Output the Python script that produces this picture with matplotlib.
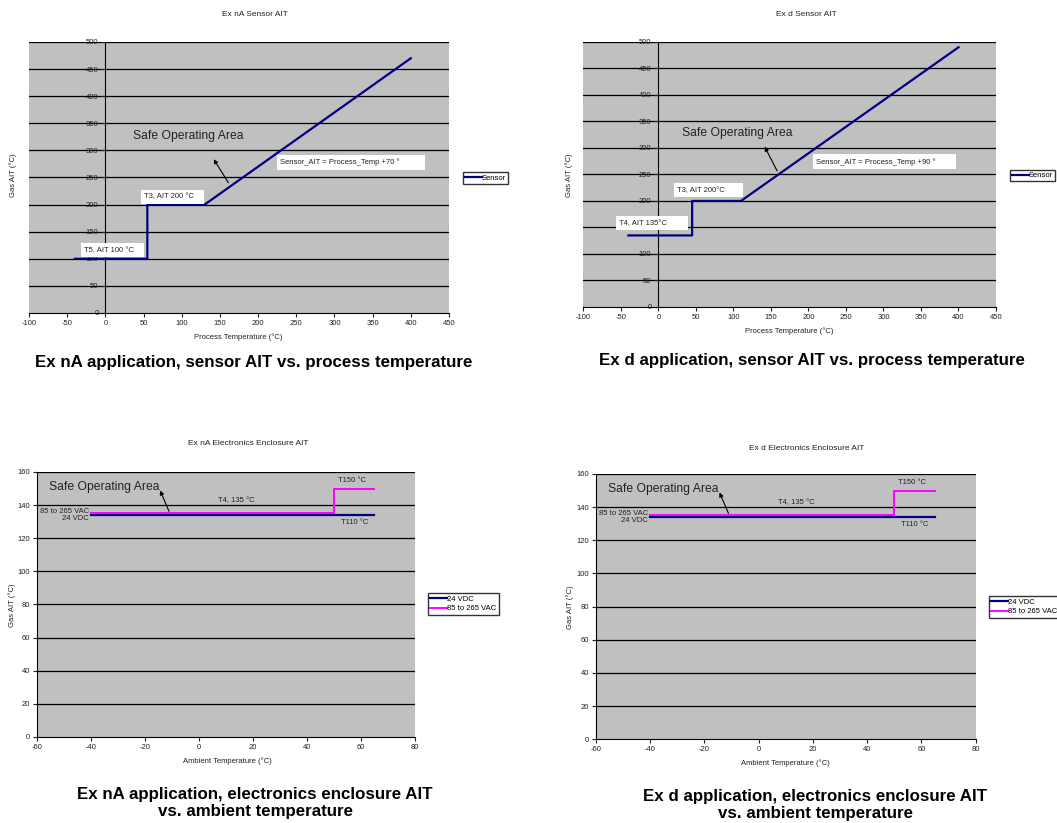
import matplotlib
matplotlib.use("Agg")
import matplotlib.pyplot as plt

plt.rcParams['font.family'] = ['Liberation Sans', 'DejaVu Sans']
plt.rcParams['axes.unicode_minus'] = False

# Ex nA sensor
na_x = [-40, 55, 55, 130, 400]
na_y = [100, 100, 200, 200, 470]
# Ex d sensor
d_x = [-40, 45, 45, 110, 400]
d_y = [135, 135, 200, 200, 490]
# enclosures (same for both)
vdc_x = [-40, 65]
vdc_y = [134, 134]
vac_x = [-40, 50, 50, 65]
vac_y = [135, 135, 150, 150]

sensor_xticks = list(range(-100, 451, 50))
sensor_yticks = list(range(0, 501, 50))
encl_xticks = list(range(-60, 81, 20))
encl_yticks = list(range(0, 161, 20))

BG = '#c0c0c0'
NAVY = '#000080'
MAG = '#ff00ff'
TXT = '#222222'

fig = plt.figure(figsize=(10.57, 8.23), dpi=100)


def setup(ax, xt, yt, cross0):
    ax.set_facecolor(BG)
    ax.set_xlim(xt[0], xt[-1])
    ax.set_ylim(yt[0], yt[-1])
    ax.set_xticks(xt)
    ax.set_yticks(yt)
    ax.tick_params(labelsize=5.5, colors=TXT, length=3, width=0.8, pad=2)
    for y in yt[1:]:
        ax.axhline(y, color='black', lw=0.9, zorder=1)
    for s in ['top', 'right']:
        ax.spines[s].set_visible(False)
    ax.spines['bottom'].set_color('black')
    ax.spines['left'].set_color('black')
    if cross0:
        ax.spines['left'].set_position(('data', 0))


def lbox(ax, x, y, s):
    ax.text(x, y, s, fontsize=5.5, color=TXT, va='center', ha='left',
            bbox=dict(facecolor='white', edgecolor='none', pad=2.5), zorder=4)


# ---- top left ----
ax1 = fig.add_axes([0.0274, 0.6197, 0.3974, 0.3293])
setup(ax1, sensor_xticks, sensor_yticks, True)
l1, = ax1.plot(na_x, na_y, color=NAVY, lw=1.6, zorder=3)
ax1.text(36, 327, 'Safe Operating Area', fontsize=8.7, color=TXT, va='center')
ax1.annotate('', xy=(140, 288), xytext=(163, 236),
             arrowprops=dict(arrowstyle='-|>', color='black', lw=0.8, mutation_scale=6))
lbox(ax1, 229, 278, 'Sensor_AIT = Process_Temp +70 °          ')
lbox(ax1, 51, 214, 'T3, AIT 200 °C   ')
lbox(ax1, -28, 116, 'T5, AIT 100 °C   ')
fig.legend([l1], ['Sensor'], loc='upper left', bbox_to_anchor=(0.438, 0.791),
           fontsize=5.5, frameon=True, fancybox=False, edgecolor='black',
           handlelength=2.2, handletextpad=0, borderpad=0.3, borderaxespad=0)

# ---- top right ----
ax2 = fig.add_axes([0.5519, 0.6270, 0.3904, 0.3220])
setup(ax2, sensor_xticks, sensor_yticks, True)
l2, = ax2.plot(d_x, d_y, color=NAVY, lw=1.6, zorder=3)
ax2.text(31, 328, 'Safe Operating Area', fontsize=8.7, color=TXT, va='center')
ax2.annotate('', xy=(140, 307), xytext=(160, 252),
             arrowprops=dict(arrowstyle='-|>', color='black', lw=0.8, mutation_scale=6))
lbox(ax2, 210, 274, 'Sensor_AIT = Process_Temp +90 °        ')
lbox(ax2, 25, 220, 'T3, AIT 200°C       ')
lbox(ax2, -52, 158, 'T4, AIT 135°C        ')
fig.legend([l2], ['Sensor'], loc='upper left', bbox_to_anchor=(0.9555, 0.794),
           fontsize=5.5, frameon=True, fancybox=False, edgecolor='black',
           handlelength=2.2, handletextpad=0, borderpad=0.3, borderaxespad=0)


def encl(ax):
    setup(ax, encl_xticks, encl_yticks, False)
    a, = ax.plot(vdc_x, vdc_y, color=NAVY, lw=1.6, zorder=3)
    b, = ax.plot(vac_x, vac_y, color=MAG, lw=1.4, zorder=3)
    ax.text(-55.6, 151, 'Safe Operating Area', fontsize=8.7, color=TXT, va='center')
    ax.annotate('', xy=(-14.8, 150.4), xytext=(-10.7, 134.7),
                arrowprops=dict(arrowstyle='-|>', color='black', lw=0.8, mutation_scale=6))
    ax.text(14, 142.5, 'T4, 135 °C', fontsize=5.5, color=TXT, ha='center', va='center')
    ax.text(-40.7, 136.2, '85 to 265 VAC', fontsize=5.5, color=TXT, ha='right', va='center')
    ax.text(-40.7, 131.8, '24 VDC', fontsize=5.5, color=TXT, ha='right', va='center')
    ax.text(51.5, 154.6, 'T150 °C', fontsize=5.5, color=TXT, ha='left', va='center')
    ax.text(52.6, 129.8, 'T110 °C', fontsize=5.5, color=TXT, ha='left', va='center')
    return a, b


ax3 = fig.add_axes([0.0350, 0.1045, 0.3576, 0.3220])
a3, b3 = encl(ax3)
fig.legend([a3, b3], ['24 VDC', '85 to 265 VAC'], loc='upper left',
           bbox_to_anchor=(0.405, 0.2795), fontsize=5.5, frameon=True, fancybox=False,
           edgecolor='black', handlelength=2.2, handletextpad=0, borderpad=0.3,
           borderaxespad=0, labelspacing=0.3)

ax4 = fig.add_axes([0.5636, 0.1017, 0.3595, 0.3224])
a4, b4 = encl(ax4)
fig.legend([a4, b4], ['24 VDC', '85 to 265 VAC'], loc='upper left',
           bbox_to_anchor=(0.9357, 0.2758), fontsize=5.5, frameon=True, fancybox=False,
           edgecolor='black', handlelength=2.2, handletextpad=0, borderpad=0.3,
           borderaxespad=0, labelspacing=0.3)

# chart titles
fig.text(255 / 1057, 1 - 15 / 823, 'Ex nA Sensor AIT', fontsize=6, ha='center', va='center', color=TXT)
fig.text(806 / 1057, 1 - 15 / 823, 'Ex d Sensor AIT', fontsize=6, ha='center', va='center', color=TXT)
fig.text(248 / 1057, 1 - 443 / 823, 'Ex nA Electronics Enclosure AIT', fontsize=6, ha='center', va='center', color=TXT)
fig.text(807 / 1057, 1 - 448 / 823, 'Ex d Electronics Enclosure AIT', fontsize=6, ha='center', va='center', color=TXT)

# axis labels
for x, y in [(13, 175), (569, 175), (12, 605), (570, 607)]:
    fig.text(x / 1057, 1 - y / 823, 'Gas AIT (°C)', fontsize=5.5, rotation=90,
             ha='center', va='center', color=TXT)
fig.text(238 / 1057, 1 - 337 / 823, 'Process Temperature (°C)', fontsize=5.5, ha='center', va='center', color=TXT)
fig.text(789 / 1057, 1 - 331 / 823, 'Process Temperature (°C)', fontsize=5.5, ha='center', va='center', color=TXT)
fig.text(227 / 1057, 1 - 761 / 823, 'Ambient Temperature (°C)', fontsize=5.5, ha='center', va='center', color=TXT)
fig.text(785 / 1057, 1 - 763 / 823, 'Ambient Temperature (°C)', fontsize=5.5, ha='center', va='center', color=TXT)

# captions
fig.text(254 / 1057, 1 - 362 / 823, 'Ex nA application, sensor AIT vs. process temperature',
         fontsize=12.2, fontweight='bold', ha='center', va='center')
fig.text(812 / 1057, 1 - 360 / 823, 'Ex d application, sensor AIT vs. process temperature',
         fontsize=12.2, fontweight='bold', ha='center', va='center')
fig.text(255 / 1057, 1 - 803 / 823, 'Ex nA application, electronics enclosure AIT\nvs. ambient temperature',
         fontsize=12.2, fontweight='bold', ha='center', va='center', linespacing=1.2)
fig.text(815 / 1057, 1 - 805 / 823, 'Ex d application, electronics enclosure AIT\nvs. ambient temperature',
         fontsize=12.2, fontweight='bold', ha='center', va='center', linespacing=1.2)

fig.savefig('out.png', dpi=100)
